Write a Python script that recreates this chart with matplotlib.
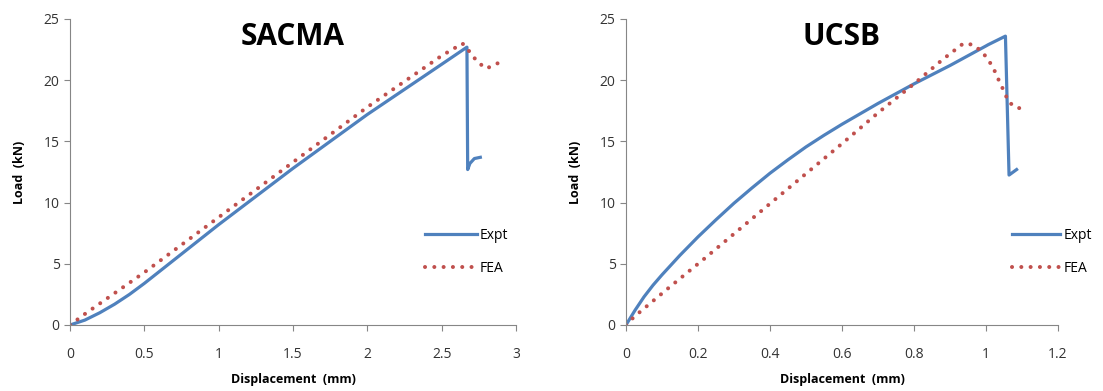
import matplotlib.pyplot as plt
from matplotlib.ticker import FuncFormatter

# SACMA data
sacma_expt_x = [0, 0.1, 0.2, 0.3, 0.4, 0.5, 0.75, 1.0, 1.5, 2.0, 2.5, 2.67, 2.675, 2.69, 2.72, 2.76]
sacma_expt_y = [0, 0.4, 1.0, 1.7, 2.5, 3.4, 5.8, 8.2, 12.8, 17.2, 21.3, 22.7, 12.7, 13.2, 13.6, 13.7]
sacma_fea_x = [0, 0.1, 0.5, 1.0, 1.5, 2.0, 2.5, 2.64, 2.69, 2.74, 2.8, 2.88]
sacma_fea_y = [0, 0.9, 4.3, 8.8, 13.3, 17.8, 22.0, 23.0, 22.3, 21.5, 20.95, 21.4]

# UCSB data
ucsb_expt_x = [0, 0.025, 0.05, 0.075, 0.1, 0.15, 0.2, 0.25, 0.3, 0.35, 0.4, 0.45, 0.5, 0.55, 0.6,
               0.7, 0.8, 0.9, 1.0, 1.006, 1.054, 1.064, 1.085]
ucsb_expt_y = [0, 1.2, 2.3, 3.25, 4.1, 5.7, 7.2, 8.6, 9.95, 11.2, 12.4, 13.5, 14.55, 15.5, 16.4,
               18.1, 19.7, 21.2, 22.8, 22.9, 23.6, 12.25, 12.7]
ucsb_fea_x = [0, 0.023, 0.12, 0.218, 0.41, 0.603, 0.7, 0.8, 0.88, 0.937, 0.964, 0.99, 1.01, 1.025, 1.037, 1.05, 1.063, 1.089, 1.117]
ucsb_fea_y = [0, 0.68, 3.07, 5.43, 10.16, 14.89, 17.33, 19.7, 21.7, 23.0, 22.9, 22.3, 21.5, 20.7, 19.9, 19.1, 18.2, 17.7, 17.9]

blue = '#4F81BD'
red = '#C0504D'
grey = '#868686'
plt.rcParams['font.family'] = ['Open Sans', 'DejaVu Sans']

fig = plt.figure(figsize=(11.03, 3.91), dpi=100)
ax1 = fig.add_axes([70/1103, 1-325/391, 446/1103, 306/391])
ax2 = fig.add_axes([626/1103, 1-325/391, 432/1103, 306/391])

panels = [
    (ax1, 'SACMA', sacma_expt_x, sacma_expt_y, sacma_fea_x, sacma_fea_y, 3, 0.5, 0.797, 3.7),
    (ax2, 'UCSB', ucsb_expt_x, ucsb_expt_y, ucsb_fea_x, ucsb_fea_y, 1.2, 0.2, 0.893, 3.5),
]
for ax, title, ex, ey, fx, fy, xmax, xstep, legx, hl in panels:
    ax.plot(ex, ey, color=blue, lw=2.3, label='Expt', solid_joinstyle='round')
    ax.plot(fx, fy, color=red, lw=2.9, linestyle=(0, (0.01, 2.3)),
            dash_capstyle='round', label='FEA')
    ax.set_xlim(0, xmax)
    ax.set_ylim(0, 25)
    n = int(round(xmax / xstep))
    ax.set_xticks([i * xstep for i in range(n + 1)])
    ax.set_yticks(range(0, 26, 5))
    ax.xaxis.set_major_formatter(FuncFormatter(lambda v, p: '%g' % round(v, 2)))
    for s in ['top', 'right']:
        ax.spines[s].set_visible(False)
    for s in ['left', 'bottom']:
        ax.spines[s].set_color(grey)
    ax.tick_params(direction='out', color=grey, length=4, labelsize=10, labelcolor='#333333')
    ax.tick_params(axis='x', pad=12)
    ax.text(0.5, 0.94, title, transform=ax.transAxes, ha='center', va='center',
            fontsize=21.5, fontweight='bold')
    ax.set_xlabel('Displacement  (mm)', fontsize=9, fontweight='bold', labelpad=8)
    ax.set_ylabel('Load  (kN)', fontsize=9, fontweight='bold', labelpad=12.5)
    ax.legend(loc='center left', bbox_to_anchor=(legx, 0.24), frameon=False,
              fontsize=10, handlelength=hl, handletextpad=0.2, labelspacing=1.3,
              borderaxespad=0, borderpad=0)

fig.savefig('out.png', dpi=100)
